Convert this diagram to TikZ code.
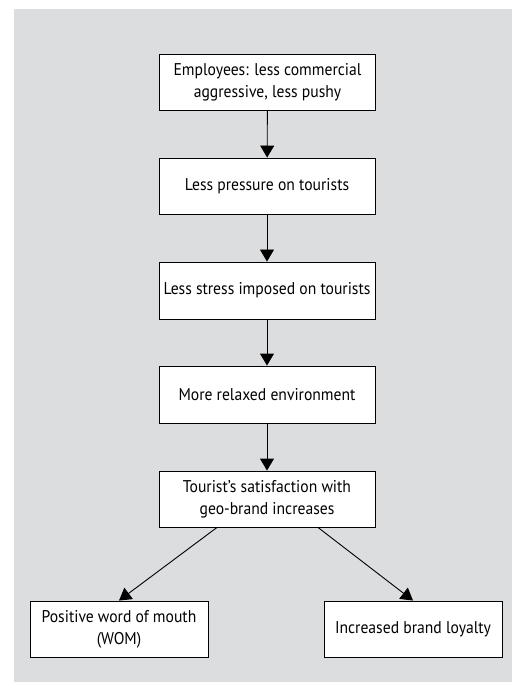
\documentclass[tikz,border=0pt]{standalone}
\usepackage{fontspec}
\setmainfont[FakeStretch=0.92]{PT Sans}
\usetikzlibrary{arrows.meta}
\definecolor{bggray}{RGB}{220,221,223}
\tikzset{
  x=1pt, y=-1pt,
  box/.style={draw=black, line width=0.9pt, fill=white, minimum width=216pt, minimum height=56pt,
    align=center, inner sep=0pt, font=\fontsize{17}{22}\selectfont},
  sidebox/.style={box, minimum width=178pt},
  conn/.style={line width=0.9pt, -{Triangle[width=14pt,length=12pt]}}
}
\begin{document}
\begin{tikzpicture}
\useasboundingbox (0,0) rectangle (512,692);
\fill[bggray] (14,9) rectangle (512,682);
\node[box] (n1) at (267.5,82) {Employees: less commercial\\aggressive, less pushy};
\node[box] (n2) at (267,186) {Less pressure on tourists};
\node[box, minimum height=57pt] (n3) at (267,290.5) {Less stress imposed on tourists};
\node[box, minimum height=57pt] (n4) at (267,394.5) {More relaxed environment};
\node[box] (n5) at (267,499) {Tourist’s satisfaction with\\geo-brand increases};
\node[sidebox] (n6) at (119,629) {Positive word of mouth\\(WOM)};
\node[sidebox] (n7) at (413,629) {Increased brand loyalty};
\draw[conn] (n1) -- (n2);
\draw[conn] (n2) -- (n3);
\draw[conn] (n3) -- (n4);
\draw[conn] (n4) -- (n5);
\draw[conn] ([xshift=-50pt]n5.south) -- (n6.north);
\draw[conn] ([xshift=51pt]n5.south) -- (n7.north);
\end{tikzpicture}
\end{document}
